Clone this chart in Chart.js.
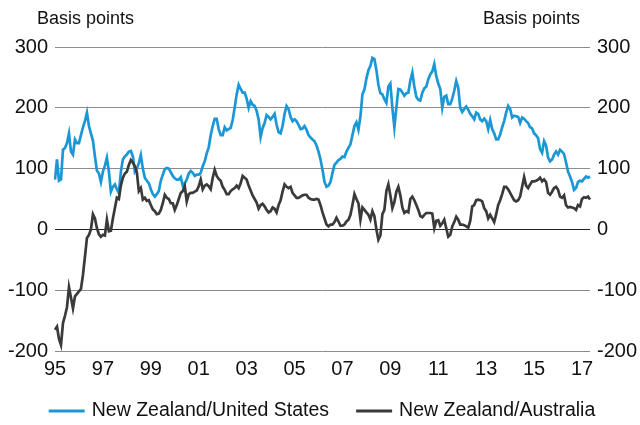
<!DOCTYPE html>
<html>
<head>
<meta charset="utf-8">
<script src="https://cdn.jsdelivr.net/npm/chart.js@4"></script>
<style>
  html, body { margin: 0; padding: 0; background: #fff; }
  #wrap { width: 640px; height: 425px; position: relative; }
</style>
</head>
<body>
<div id="wrap"><canvas id="spreads"></canvas></div>
<script>
// Monthly interest rate spreads, basis points, Jan 1995 onwards
const startYear = 1995;

const nzUs = [
  82, 115, 80, 82, 131, 134, 142, 158, 128, 123, 148, 142,     // 1995
  142, 155, 168, 178, 192, 170, 158, 146, 120, 97, 92, 78,     // 1996
  95, 105, 118, 95, 62, 70, 74, 66, 60, 95, 115, 120,          // 1997
  123, 128, 129, 120, 95, 100, 109, 122, 100, 85, 80, 76,      // 1998
  66, 58, 54, 58, 63, 80, 90, 99, 101, 100, 94, 88,            // 1999
  84, 82, 82, 86, 72, 76, 82, 92, 96, 93, 88, 90,              // 2000
  90, 93, 104, 112, 125, 135, 155, 170, 182, 182, 165, 155,    // 2001
  155, 168, 163, 165, 167, 180, 200, 222, 238, 231, 225, 225,  // 2002
  215, 200, 211, 205, 203, 195, 181, 152, 167, 175, 188, 185,  // 2003
  181, 185, 190, 172, 160, 158, 170, 190, 203, 198, 185, 178,  // 2004
  181, 178, 172, 165, 166, 170, 164, 155, 151, 148, 145, 138,  // 2005
  128, 115, 98, 78, 70, 72, 78, 93, 106, 110, 114, 116,        // 2006
  120, 119, 128, 134, 140, 155, 170, 176, 164, 186, 222, 230,  // 2007
  248, 262, 269, 282, 280, 262, 238, 224, 222, 214, 208, 235,  // 2008
  240, 200, 168, 200, 231, 230, 225, 220, 224, 225, 245, 258,  // 2009
  235, 218, 213, 212, 225, 232, 235, 247, 255, 260, 272, 252,  // 2010
  240, 231, 200, 218, 220, 206, 206, 215, 228, 244, 233, 200,  // 2011
  193, 198, 202, 197, 190, 186, 181, 192, 190, 181, 178, 182,  // 2012
  178, 165, 180, 165, 158, 148, 148, 156, 168, 178, 192, 203,  // 2013
  198, 184, 187, 186, 185, 175, 184, 182, 178, 175, 168, 166,  // 2014
  158, 155, 150, 132, 126, 145, 138, 118, 112, 115, 123, 128,  // 2015
  123, 131, 128, 124, 110, 95, 87, 78, 65, 68, 78, 80,         // 2016
  79, 83, 87, 85, 87                                           // 2017
];

const nzAu = [
  -165, -160, -180, -190, -154, -142, -128, -95, -112, -130, -110, -106, // 1995
  -102, -98, -75, -45, -14, -9, 0, 25, 18, 2, -8, -12,         // 1996
  -9, -10, 16, -3, -2, 18, 35, 52, 50, 72, 85, 92,             // 1997
  95, 106, 114, 110, 104, 94, 63, 68, 49, 52, 47, 48,          // 1998
  40, 33, 30, 25, 26, 32, 43, 57, 52, 50, 43, 43,              // 1999
  32, 40, 50, 60, 63, 71, 46, 58, 60, 60, 62, 64,              // 2000
  71, 82, 66, 72, 74, 71, 66, 85, 98, 88, 83, 80,              // 2001
  70, 65, 58, 58, 63, 66, 68, 72, 68, 76, 88, 85,              // 2002
  82, 72, 64, 56, 50, 44, 34, 40, 42, 38, 32, 28,              // 2003
  30, 36, 34, 28, 40, 48, 62, 74, 70, 68, 70, 60,              // 2004
  56, 52, 52, 54, 56, 57, 57, 52, 50, 49, 49, 50,              // 2005
  49, 40, 28, 18, 8, 5, 8, 8, 12, 19, 13, 6,                   // 2006
  6, 8, 13, 16, 24, 40, 58, 50, 43, 16, 36, 32,                // 2007
  28, 24, 16, 30, 22, 0, -17, -10, 25, 32, 63, 74,             // 2008
  56, 35, 45, 62, 70, 56, 36, 27, 30, 28, 50, 54,              // 2009
  48, 40, 32, 22, 20, 24, 27, 27, 27, 26, 2, 14,               // 2010
  15, 6, 10, 16, 2, -12, -9, 5, 12, 21, 16, 8,                 // 2011
  8, 7, 5, 3, 14, 38, 40, 48, 49, 48, 46, 35,                  // 2012
  30, 18, 24, 18, 12, 25, 40, 48, 58, 70, 70, 66,              // 2013
  60, 54, 48, 46, 48, 54, 70, 86, 72, 68, 74, 79,              // 2014
  79, 80, 82, 85, 79, 82, 78, 60, 57, 62, 68, 70,              // 2015
  65, 54, 52, 56, 40, 36, 37, 36, 35, 32, 40, 38,              // 2016
  50, 53, 52, 54, 49                                           // 2017
];

const seriesNames = ["New Zealand/United States", "New Zealand/Australia"];
const yTicks = [-200, -100, 0, 100, 200, 300];
const unitLabel = "Basis points";

// month labels like "1995-01"
const months = nzUs.map((_, i) => {
  const y = startYear + Math.floor(i / 12);
  const m = (i % 12) + 1;
  return y + "-" + (m < 10 ? "0" + m : m);
});

const FONT = '"Liberation Sans", Arial, sans-serif';
const BLUE = "#1b97d5";
const DARK = "#3a3a3a";

// "Basis points" above both value axes, plus a compact line legend underneath
const extras = {
  id: "extras",
  afterDraw(chart) {
    const ctx = chart.ctx;
    ctx.save();
    ctx.font = "18px " + FONT;
    ctx.fillStyle = "#111";
    ctx.textBaseline = "middle";
    ctx.textAlign = "left";
    ctx.fillText(unitLabel, 37, 19);
    ctx.textAlign = "right";
    ctx.fillText(unitLabel, 580, 19);

    // legend: line swatch, label, gap, line swatch, label
    ctx.font = "19.5px " + FONT;
    ctx.textAlign = "left";
    const sw = 36, gapText = 7, gapItem = 27, ly = 411;
    const sets = chart.data.datasets;
    const widths = sets.map((d) => ctx.measureText(d.label).width);
    let total = 0;
    widths.forEach((w, i) => { total += sw + gapText + w + (i ? gapItem : 0); });
    let x = 322 - total / 2;
    sets.forEach((d, i) => {
      ctx.strokeStyle = d.borderColor;
      ctx.lineWidth = 3;
      ctx.beginPath();
      ctx.moveTo(x, ly);
      ctx.lineTo(x + sw, ly);
      ctx.stroke();
      ctx.fillText(d.label, x + sw + gapText, ly);
      x += sw + gapText + widths[i] + gapItem;
    });
    ctx.restore();
  }
};

const yTickOpts = {
  stepSize: 100,
  padding: 7,
  color: "#111",
  font: { family: FONT, size: 20 },
  callback: (v) => yTicks.includes(v) ? String(v) : null
};

new Chart(document.getElementById("spreads"), {
  type: "line",
  data: {
    labels: months,
    datasets: [
      {
        label: seriesNames[0],
        data: nzUs,
        borderColor: BLUE,
        backgroundColor: BLUE,
        borderWidth: 2.7,
        pointRadius: 0,
        tension: 0,
        order: 1
      },
      {
        label: seriesNames[1],
        data: nzAu,
        borderColor: DARK,
        backgroundColor: DARK,
        borderWidth: 2.7,
        pointRadius: 0,
        tension: 0,
        order: 0
      }
    ]
  },
  options: {
    responsive: true,
    maintainAspectRatio: false,
    animation: false,
    layout: { padding: { top: 47, right: 0, left: 0, bottom: 44 } },
    plugins: {
      tooltip: { enabled: false },
      legend: { display: false }
    },
    scales: {
      x: {
        type: "category",
        grid: { display: false, drawTicks: false },
        border: { display: false },
        ticks: {
          autoSkip: false,
          maxRotation: 0,
          padding: 6,
          color: "#111",
          font: { family: FONT, size: 20 },
          callback: function (val) {
            const lbl = this.getLabelForValue(val);
            const yr = parseInt(lbl.slice(0, 4), 10);
            if (lbl.slice(5) === "01" && yr % 2 === 1) return lbl.slice(2, 4);
            return null;
          }
        },
        afterFit: (scale) => { scale.height = 30; }
      },
      y: {
        position: "left",
        min: -200,
        max: 300,
        border: { display: false },
        grid: {
          drawTicks: false,
          lineWidth: 1,
          color: (c) => c.tick && c.tick.value === 0 ? "#222" : "#8c8c8c"
        },
        ticks: yTickOpts,
        afterFit: (scale) => { scale.width = 55; }
      },
      y2: {
        position: "right",
        min: -200,
        max: 300,
        border: { display: false },
        grid: { display: false, drawTicks: false },
        ticks: yTickOpts,
        afterFit: (scale) => { scale.width = 50; }
      }
    }
  },
  plugins: [extras]
});
</script>
</body>
</html>
